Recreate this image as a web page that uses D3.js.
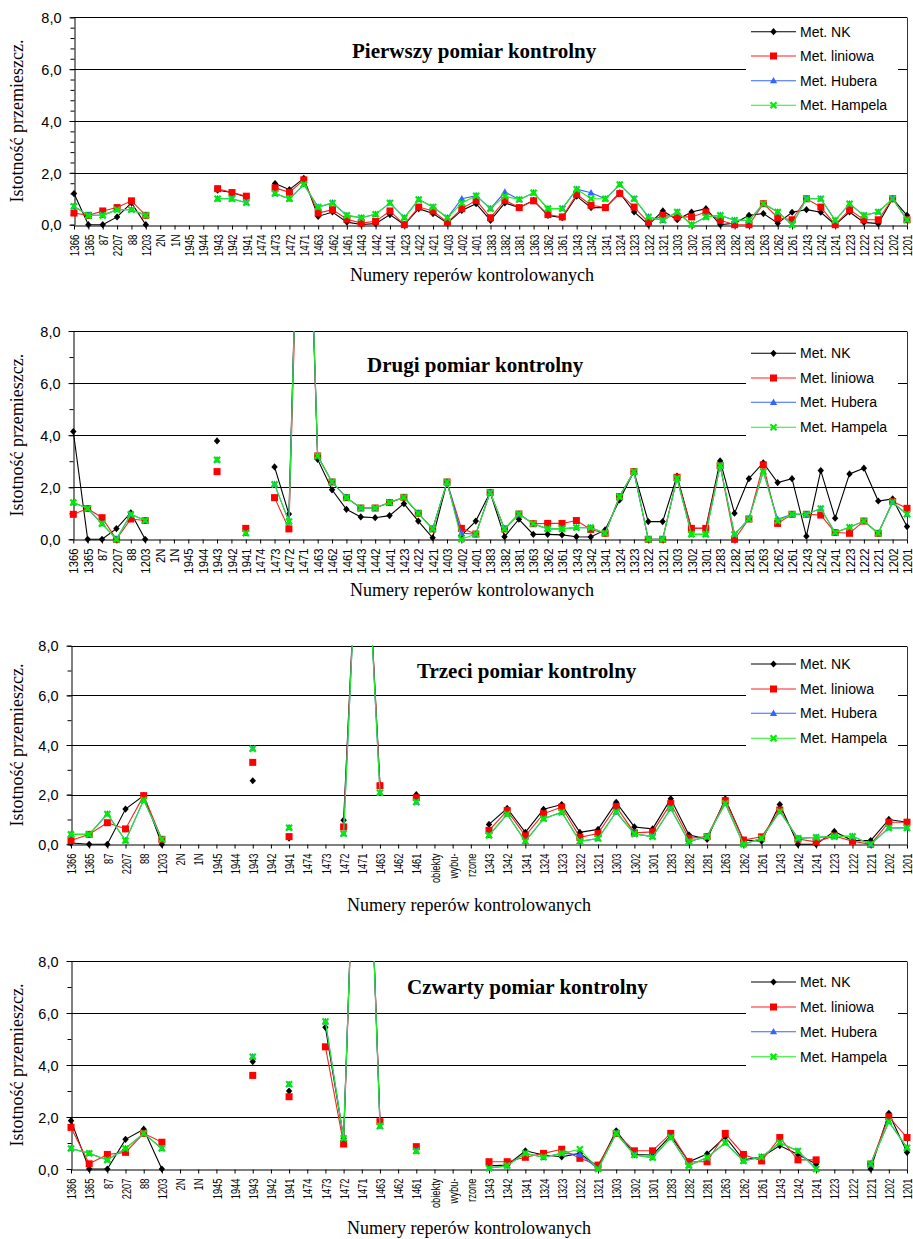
<!DOCTYPE html>
<html><head><meta charset="utf-8">
<script src="https://cdn.jsdelivr.net/npm/d3@7"></script>
<style>body{margin:0;background:#fff}svg{display:block}</style>
</head><body>
<svg id="c" width="913" height="1239"></svg>
<script>
// ---------- DATA ----------
const cats12 = ["1366","1365","87","2207","88","1203","2N","1N","1945","1944","1943","1942","1941","1474","1473","1472","1471","1463","1462","1461","1443","1442","1441","1423","1422","1421","1403","1402","1401","1383","1382","1381","1363","1362","1361","1343","1342","1341","1324","1323","1322","1321","1303","1302","1301","1283","1282","1281","1263","1262","1261","1243","1242","1241","1223","1222","1221","1202","1201"];
const cats34 = ["1366","1365","87","2207","88","1203","2N","1N","1945","1944","1943","1942","1941","1474","1473","1472","1471","1463","1462","1461","obiekty","wybu-","rzone","1343","1342","1341","1324","1323","1322","1321","1303","1302","1301","1283","1282","1281","1263","1262","1261","1243","1242","1241","1223","1222","1221","1202","1201"];

const seriesNames = ["Met. NK","Met. liniowa","Met. Hubera","Met. Hampela"];
const titles = ["Pierwszy pomiar kontrolny","Drugi pomiar kontrolny","Trzeci pomiar kontrolny","Czwarty pomiar kontrolny"];
const xAxisTitle = "Numery reperów kontrolowanych";
const yAxisTitle = "Istotność przemieszcz.";
const yTicks = [0,2,4,6,8];
const yTickLabels = ["0,0","2,0","4,0","6,0","8,0"];

// Panel 1
const p1NK  = [1.2,0,0,0.3,0.84,0,null,null,null,null,1.33,1.24,1.07,null,1.59,1.35,1.79,0.32,0.49,0.1,0.01,0.04,0.39,0,0.62,0.43,0.06,0.55,0.81,0.17,0.84,0.66,0.94,0.36,0.27,1.1,0.66,0.66,1.23,0.49,0,0.53,0.19,0.49,0.62,0,0.06,0.36,0.43,0.06,0.48,0.58,0.48,0,0.49,0.09,0.04,1.0,0.36];
const p1Lin = [0.45,0.36,0.53,0.66,0.92,0.36,null,null,null,null,1.39,1.24,1.1,null,1.42,1.25,1.73,0.45,0.58,0.21,0.06,0.13,0.53,0,0.68,0.53,0.09,0.62,0.94,0.27,0.94,0.66,0.92,0.39,0.3,1.17,0.75,0.66,1.2,0.68,0.09,0.36,0.3,0.3,0.49,0.17,0,0,0.81,0.27,0.19,1.0,0.68,0,0.58,0.19,0.19,1.0,0.19];
const p1Hub = [0.71,0.36,0.36,0.58,0.58,0.36,null,null,null,null,1.0,1.0,0.85,null,1.2,1.0,1.55,0.68,0.84,0.36,0.27,0.4,0.84,0.27,0.97,0.68,0.27,1.0,1.12,0.62,1.26,0.97,1.23,0.62,0.62,1.37,1.23,1.0,1.55,1.0,0.3,0.17,0.49,0,0.3,0.36,0.17,0.17,0.81,0.49,0,1.0,1.0,0.17,0.81,0.36,0.49,1.0,0.19];
const p1Ham = [0.71,0.36,0.36,0.58,0.58,0.36,null,null,null,null,1.0,1.0,0.85,null,1.2,1.0,1.55,0.68,0.84,0.36,0.27,0.4,0.84,0.27,0.97,0.68,0.27,0.84,1.12,0.62,1.1,0.97,1.23,0.62,0.62,1.37,1.0,1.0,1.55,1.0,0.3,0.17,0.49,0,0.3,0.36,0.17,0.17,0.81,0.49,0,1.0,1.0,0.17,0.81,0.36,0.49,1.0,0.19];

// Panel 2
const p2NK  = [4.14,0,0,0.41,1.02,0,null,null,null,null,3.78,null,0.4,null,2.78,0.97,21,3.07,1.9,1.15,0.86,0.83,0.91,1.37,0.7,0.06,2.19,0.15,0.7,1.8,0.1,0.77,0.19,0.19,0.17,0.1,0.09,0.36,1.51,2.6,0.68,0.68,2.43,0.42,0.42,3.01,1.0,2.33,2.94,2.18,2.33,0.12,2.64,0.81,2.51,2.73,1.47,1.55,0.49];
const p2Lin = [0.96,1.18,0.83,0,0.78,0.72,null,null,null,null,2.6,null,0.42,null,1.6,0.4,20,3.2,2.2,1.6,1.2,1.2,1.41,1.61,1.0,0.4,2.2,0.42,0.2,1.8,0.4,0.97,0.6,0.61,0.61,0.72,0.38,0.23,1.64,2.6,0,0,2.38,0.42,0.42,2.83,0,0.78,2.86,0.61,0.96,0.96,0.93,0.26,0.23,0.7,0.23,1.45,1.19];
const p2Hub = [1.41,1.18,0.6,0,0.96,0.72,null,null,null,null,3.05,null,0.23,null,2.11,0.68,21,3.2,2.2,1.6,1.2,1.2,1.41,1.61,1.0,0.4,2.2,0.23,0.2,1.8,0.4,0.97,0.6,0.4,0.4,0.45,0.45,0.23,1.64,2.6,0,0,2.34,0.19,0.19,2.83,0.19,0.78,2.6,0.77,0.96,0.96,1.18,0.26,0.46,0.7,0.23,1.42,0.96];
const p2Ham = [1.41,1.18,0.6,0,0.96,0.72,null,null,null,null,3.05,null,0.23,null,2.11,0.68,21,3.2,2.2,1.6,1.2,1.2,1.41,1.61,1.0,0.4,2.2,0,0.2,1.8,0.4,0.97,0.6,0.4,0.4,0.45,0.45,0.23,1.64,2.6,0,0,2.34,0.19,0.19,2.83,0.19,0.78,2.6,0.7,0.96,0.96,1.18,0.26,0.46,0.7,0.23,1.42,0.96];

// Panel 3
const p3NK  = [0.05,0,0,1.42,1.96,0,null,null,null,null,2.56,null,0.25,null,null,0.97,16.5,2.4,null,2.0,null,null,null,0.8,1.45,0.48,1.41,1.6,0.48,0.6,1.69,0.7,0.62,1.83,0.38,0.2,1.83,0.17,0.13,1.6,0,0,0.52,0.15,0.15,1.0,0.89];
const p3Lin = [0.15,0.4,0.87,0.62,1.96,0.2,null,null,null,null,3.3,null,0.31,null,null,0.7,16.5,2.36,null,1.88,null,null,null,0.56,1.36,0.34,1.23,1.5,0.28,0.43,1.52,0.46,0.5,1.64,0.24,0.31,1.76,0.17,0.3,1.38,0.21,0.1,0.34,0.12,0,0.89,0.89];
const p3Hub = [0.4,0.4,1.22,0.15,1.78,0.2,null,null,null,null,3.85,null,0.67,null,null,0.43,16.5,2.08,null,1.7,null,null,null,0.36,1.21,0.12,1.03,1.29,0.12,0.23,1.3,0.42,0.31,1.44,0.11,0.31,1.64,0,0.24,1.32,0.24,0.28,0.32,0.32,0,0.66,0.66];
const p3Ham = [0.4,0.4,1.22,0.15,1.78,0.2,null,null,null,null,3.85,null,0.67,null,null,0.43,16.5,2.08,null,1.7,null,null,null,0.36,1.21,0.12,1.03,1.29,0.12,0.23,1.3,0.42,0.31,1.44,0.11,0.31,1.64,0,0.24,1.32,0.24,0.28,0.32,0.32,0,0.66,0.66];

// Panel 4
const p4NK  = [1.86,0,0,1.14,1.53,0,null,null,null,null,4.13,null,3.0,null,5.45,1.18,21.5,1.8,null,0.8,null,null,null,0.12,0.15,0.7,0.54,0.47,0.6,0.09,1.47,0.56,0.54,1.28,0.28,0.58,1.24,0.35,0.46,0.9,0.56,0.19,null,null,0,2.14,0.64];
const p4Lin = [1.6,0.2,0.56,0.64,1.37,1.03,null,null,null,null,3.6,null,2.78,null,4.7,0.96,21.5,1.82,null,0.86,null,null,null,0.28,0.28,0.45,0.6,0.76,0.41,0.15,1.37,0.7,0.7,1.37,0.28,0.28,1.37,0.56,0.31,1.21,0.35,0.35,null,null,0.19,2.01,1.21];
const p4Hub = [0.79,0.6,0.35,0.79,1.37,0.79,null,null,null,null,4.32,null,3.26,null,5.67,1.18,21.5,1.65,null,0.69,null,null,null,0.03,0.13,0.6,0.45,0.6,0.56,0,1.37,0.54,0.44,1.21,0.13,0.44,1.01,0.31,0.46,1.01,0.69,0,null,null,0.19,1.82,0.82];
const p4Ham = [0.79,0.6,0.35,0.79,1.37,0.79,null,null,null,null,4.32,null,3.26,null,5.67,1.18,21.5,1.65,null,0.69,null,null,null,0.03,0.13,0.6,0.45,0.6,0.76,0,1.37,0.54,0.44,1.21,0.13,0.44,1.01,0.31,0.46,1.01,0.69,0,null,null,0.19,1.82,0.82];

// ---------- LAYOUT / STYLE ----------
const colors = ["#000000","#FF0000","#3366FF","#00EE00"];
const lineColors = ["#000000","#FF2020","#3366FF","#22EE22"];
const panels = [
  {cats:cats12, series:[p1NK,p1Lin,p1Hub,p1Ham], top:17.3, bottom:224.7, left:74, right:907, minor:0.4, titleX:352, titleY:58.3, legY:[31.7,56,80.7,105.3], legBox:[18,118], xTitleX:472, xTitleY:281, lblScale:0.75},
  {cats:cats12, series:[p2NK,p2Lin,p2Hub,p2Ham], top:331, bottom:539.3, left:73.3, right:907, minor:1, titleX:367, titleY:371.7, legY:[353.3,378,402.3,427.3], legBox:[335,437], xTitleX:472, xTitleY:596, lblScale:0.87},
  {cats:cats34, series:[p3NK,p3Lin,p3Hub,p3Ham], top:645.7, bottom:844.3, left:71, right:907, minor:1, titleX:417, titleY:678.3, legY:[664,689,713.3,738.3], legBox:[649,747], xTitleX:469, xTitleY:911, lblScale:0.72},
  {cats:cats34, series:[p4NK,p4Lin,p4Hub,p4Ham], top:961, bottom:1169, left:71, right:907, minor:1, titleX:407, titleY:994.3, legY:[982,1007,1031.7,1056.7], legBox:[966,1066], xTitleX:469, xTitleY:1234, lblScale:0.72}
];

const svg = d3.select("#c");
svg.append("rect").attr("width",913).attr("height",1239).attr("fill","#fff");
const SANS = "'Liberation Sans', Arial, sans-serif";
const SERIF = "'Liberation Serif', 'Times New Roman', serif";

function drawMarker(g, k, cx, cy) {
  const c = colors[k];
  if (k === 0) {
    g.append("path").attr("d","M0,-3.6L3.2,0L0,3.6L-3.2,0Z").attr("transform",`translate(${cx},${cy})`).attr("fill",c);
  } else if (k === 1) {
    g.append("rect").attr("x",cx-3.5).attr("y",cy-3.5).attr("width",7).attr("height",7).attr("fill",c);
  } else if (k === 2) {
    g.append("path").attr("d","M0,-3.8L3.6,2.6L-3.6,2.6Z").attr("transform",`translate(${cx},${cy})`).attr("fill",c);
  } else {
    g.append("path").attr("d","M-3,-3L3,3M-3,3L3,-3").attr("transform",`translate(${cx},${cy})`)
      .attr("stroke",c).attr("stroke-width",2.2).attr("fill","none");
  }
}

panels.forEach((p, pi) => {
  const x = d3.scalePoint().domain(p.cats).range([p.left, p.right]);
  const y = d3.scaleLinear().domain([0, 8]).range([p.bottom, p.top]);
  const g = svg.append("g");

  // gridlines
  g.selectAll(".grid").data(yTicks.filter(v => v > 0)).enter().append("line")
    .attr("x1", p.left).attr("x2", p.right)
    .attr("y1", d => Math.round(y(d)) + 0.5).attr("y2", d => Math.round(y(d)) + 0.5)
    .attr("stroke", "#000").attr("stroke-width", 1);
  // right border
  g.append("line").attr("x1", Math.round(p.right)+0.5).attr("x2", Math.round(p.right)+0.5)
    .attr("y1", Math.round(y(8))+0.5).attr("y2", Math.round(y(0))+0.5).attr("stroke","#333").attr("stroke-width",1);

  // y axis minor ticks
  const minorVals = d3.range(0, 8 + 1e-6, p.minor).map(v => +v.toFixed(2));
  const yMinor = g.append("g").attr("transform", `translate(${Math.round(p.left)+0.5},0)`)
    .call(d3.axisLeft(y).tickValues(minorVals).tickFormat("").tickSize(4).tickSizeOuter(0));
  yMinor.select(".domain").remove();
  yMinor.selectAll("line").attr("stroke","#000");
  // y axis major
  const yAx = g.append("g").attr("transform", `translate(${Math.round(p.left)+0.5},0)`)
    .call(d3.axisLeft(y).tickValues(yTicks).tickFormat((d,i) => yTickLabels[i]).tickSize(5).tickSizeOuter(0).tickPadding(8));
  yAx.select(".domain").attr("stroke","#000");
  yAx.selectAll("line").attr("stroke","#000");
  yAx.selectAll("text").attr("font-family", SANS).attr("font-size", "14.5px").attr("fill","#000").attr("dy","0.36em");

  // x axis
  const xAx = g.append("g").attr("transform", `translate(0,${Math.round(p.bottom)+0.5})`)
    .call(d3.axisBottom(x).tickSize(4).tickSizeOuter(0));
  xAx.select(".domain").attr("stroke","#000");
  xAx.selectAll("line").attr("stroke","#000");
  xAx.selectAll("text")
    .attr("font-family", SANS).attr("font-size","13px").attr("fill","#000")
    .attr("x",0).attr("y",0).attr("dy","0.36em").attr("text-anchor","end")
    .attr("transform", `translate(0,9) rotate(-90) scale(${p.lblScale},1)`);

  // data
  const clipId = "clip" + pi;
  svg.append("clipPath").attr("id", clipId).append("rect")
    .attr("x", p.left - 8).attr("y", p.top).attr("width", p.right - p.left + 16).attr("height", p.bottom - p.top + 8);
  const dg = g.append("g").attr("clip-path", `url(#${clipId})`);
  p.series.forEach((vals, k) => {
    const line = d3.line().defined(d => d != null).x((d, i) => x(p.cats[i])).y(d => y(d));
    dg.append("path").attr("d", line(vals)).attr("fill","none")
      .attr("stroke", lineColors[k]).attr("stroke-width", 1.1);
    vals.forEach((v, i) => { if (v != null) drawMarker(dg, k, x(p.cats[i]), y(v)); });
  });

  // title
  g.append("text").attr("x", p.titleX).attr("y", p.titleY).text(titles[pi])
    .attr("font-family", SERIF).attr("font-weight","bold").attr("font-size","21px").attr("fill","#000");

  // legend
  g.append("rect").attr("x",746).attr("y",p.legBox[0]).attr("width",152).attr("height",p.legBox[1]-p.legBox[0]).attr("fill","#fff");
  seriesNames.forEach((name, k) => {
    const ly = p.legY[k];
    g.append("line").attr("x1",751).attr("x2",796).attr("y1",ly).attr("y2",ly).attr("stroke",lineColors[k]).attr("stroke-width",1.1);
    drawMarker(g, k, 773.5, ly);
    g.append("text").attr("x",800).attr("y",ly).attr("dy","0.36em").text(name)
      .attr("font-family", SANS).attr("font-size","14px").attr("fill","#000");
  });

  // axis titles
  g.append("text").attr("x", p.xTitleX).attr("y", p.xTitleY).attr("text-anchor","middle").text(xAxisTitle)
    .attr("font-family", SERIF).attr("font-size","18px").attr("fill","#000");
  g.append("text").attr("transform", `translate(23,${(p.top + p.bottom) / 2}) rotate(-90)`).attr("text-anchor","middle").text(yAxisTitle)
    .attr("font-family", SERIF).attr("font-size","18px").attr("fill","#000");
});
</script>
</body></html>
